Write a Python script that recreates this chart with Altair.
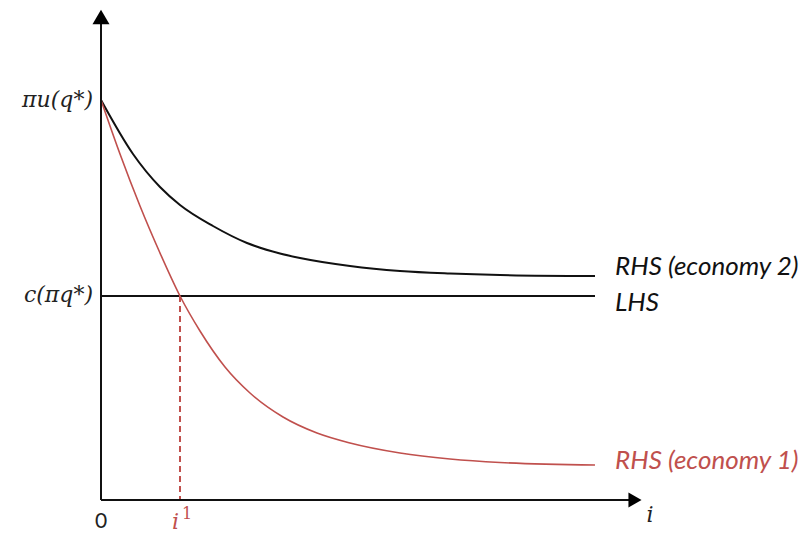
import altair as alt
import pandas as pd

# Values (abstract units)
rhs2_i = [0.00, 0.32, 0.59, 0.79, 1.12, 1.46, 1.79, 1.99, 2.49, 2.99, 3.49, 3.99, 4.94]
rhs2_v = [4.00, 3.46, 3.13, 2.95, 2.74, 2.57, 2.465, 2.42, 2.34, 2.29, 2.265, 2.25, 2.24]
rhs1_i = [0.00, 0.19, 0.39, 0.59, 0.79, 0.99, 1.24, 1.49, 1.82, 2.16, 2.49, 2.99, 3.49, 3.99, 4.94]
rhs1_v = [4.00, 3.46, 2.94, 2.47, 2.04, 1.69, 1.33, 1.07, 0.83, 0.67, 0.57, 0.47, 0.41, 0.375, 0.35]
lhs_i = [0.00, 4.94]
lhs_v = [2.04, 2.04]
i_one = 0.79
top_val = 4.00
y_axis_top = 4.83
x_axis_end = 5.34

BLACK = "#111111"
RED = "#c0504d"

xs = alt.Scale(domain=[-0.93, 7.00])
ys = alt.Scale(domain=[-0.32, 4.92])
X = lambda f: alt.X(f, type="quantitative", scale=xs, axis=None)
Y = lambda f: alt.Y(f, type="quantitative", scale=ys, axis=None)

df2 = pd.DataFrame({"i": rhs2_i, "v": rhs2_v})
df1 = pd.DataFrame({"i": rhs1_i, "v": rhs1_v})
dfl = pd.DataFrame({"i": lhs_i, "v": lhs_v})

axes = pd.DataFrame({"x": [0, 0], "y": [0, 0], "x2": [0, x_axis_end], "y2": [y_axis_top, 0]})
axis_rules = alt.Chart(axes).mark_rule(color=BLACK, strokeWidth=2).encode(
    x=X("x"), y=Y("y"), x2="x2", y2="y2")

arrow_up = alt.Chart(pd.DataFrame({"x": [0], "y": [y_axis_top]})).mark_point(
    shape="triangle-up", filled=True, color="black", size=290, opacity=1).encode(x=X("x"), y=Y("y"))
arrow_right = alt.Chart(pd.DataFrame({"x": [x_axis_end], "y": [0]})).mark_point(
    shape="triangle-right", filled=True, color="black", size=230, opacity=1).encode(x=X("x"), y=Y("y"))

line2 = alt.Chart(df2).mark_line(color=BLACK, strokeWidth=2, interpolate="monotone").encode(x=X("i"), y=Y("v"))
line1 = alt.Chart(df1).mark_line(color=RED, strokeWidth=1.6, interpolate="monotone").encode(x=X("i"), y=Y("v"))
linel = alt.Chart(dfl).mark_line(color=BLACK, strokeWidth=1.8).encode(x=X("i"), y=Y("v"))

dash = alt.Chart(pd.DataFrame({"x": [i_one], "y": [lhs_v[0]], "y2": [0]})).mark_rule(
    color=RED, strokeWidth=2, strokeDash=[6, 4]).encode(x=X("x"), y=Y("y"), y2="y2")

right_labels = pd.DataFrame({
    "x": [5.14, 5.14, 5.14],
    "y": [2.33, 1.97, 0.39],
    "t": ["RHS (economy 2)", "LHS", "RHS (economy 1)"],
    "c": [BLACK, BLACK, RED],
})
rlab = alt.Chart(right_labels).mark_text(
    align="left", baseline="middle", font="Lato", fontStyle="italic", fontSize=26).encode(
    x=X("x"), y=Y("y"), text="t:N", color=alt.Color("c:N", scale=None))

math_labels = pd.DataFrame({
    "x": [-0.08, -0.08],
    "y": [top_val, lhs_v[0] + 0.01],
    "t": ["πu(q*)", "c(πq*)"],
})
mlab = alt.Chart(math_labels).mark_text(
    align="right", baseline="middle", font="DejaVu Serif", fontStyle="italic", fontSize=22,
    color="#222222").encode(x=X("x"), y=Y("y"), text="t:N")

zero = alt.Chart(pd.DataFrame({"x": [0], "y": [-0.22], "t": ["0"]})).mark_text(
    align="center", baseline="middle", font="Lato", fontSize=21, color="#222222").encode(
    x=X("x"), y=Y("y"), text="t:N")
i_sym = alt.Chart(pd.DataFrame({"x": [0.745], "y": [-0.22], "t": ["i"]})).mark_text(
    align="center", baseline="middle", font="DejaVu Serif", fontStyle="italic", fontSize=22, color=RED).encode(
    x=X("x"), y=Y("y"), text="t:N")
i_sup = alt.Chart(pd.DataFrame({"x": [0.86], "y": [-0.14], "t": ["1"]})).mark_text(
    align="center", baseline="middle", font="DejaVu Serif", fontSize=16, color=RED).encode(
    x=X("x"), y=Y("y"), text="t:N")
ilab = alt.Chart(pd.DataFrame({"x": [5.49], "y": [-0.15], "t": ["i"]})).mark_text(
    align="center", baseline="middle", font="DejaVu Serif", fontStyle="italic", fontSize=22, color="#222222").encode(
    x=X("x"), y=Y("y"), text="t:N")

chart = alt.layer(
    linel, line2, line1, dash, axis_rules, arrow_up, arrow_right, rlab, mlab, zero, i_sym, i_sup, ilab
).properties(
    width=793, height=524, padding=0, autosize=alt.AutoSizeParams(type="none")
).configure_view(stroke=None)

chart.save("out.html", embed_options={"renderer": "svg", "actions": False})
